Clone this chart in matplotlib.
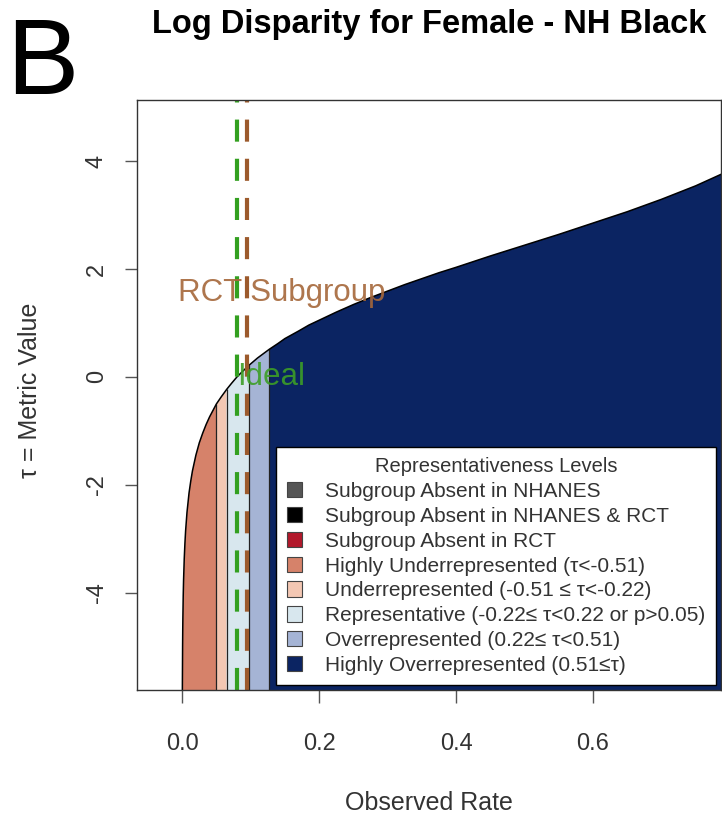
import matplotlib
matplotlib.use("Agg")
import matplotlib.pyplot as plt
from matplotlib.patches import Patch
import numpy as np

plt.rcParams['font.family'] = ['Liberation Sans', 'DejaVu Sans']
plt.rcParams['axes.unicode_minus'] = False

# observed rate vs log disparity curve
rate = [0.0002, 0.0003, 0.0006, 0.0008, 0.001, 0.0015, 0.002, 0.003, 0.004, 0.005,
        0.007, 0.01, 0.0125, 0.015, 0.02, 0.025, 0.03, 0.035, 0.04, 0.045,
        0.05, 0.057, 0.065, 0.072, 0.08, 0.088, 0.098, 0.11, 0.127, 0.14,
        0.15, 0.17, 0.185, 0.2, 0.225, 0.25, 0.275, 0.3, 0.325, 0.35,
        0.375, 0.4, 0.45, 0.5, 0.55, 0.6, 0.65, 0.7, 0.75, 0.79]
tau = [-6.08, -5.67, -4.98, -4.69, -4.47, -4.06, -3.77, -3.37, -3.08, -2.85,
       -2.51, -2.15, -1.93, -1.74, -1.45, -1.22, -1.04, -0.88, -0.74, -0.62,
       -0.50, -0.37, -0.23, -0.12, 0.00, 0.10, 0.22, 0.35, 0.51, 0.62,
       0.71, 0.85, 0.96, 1.05, 1.20, 1.34, 1.47, 1.59, 1.71, 1.82,
       1.93, 2.03, 2.24, 2.44, 2.64, 2.85, 3.06, 3.29, 3.54, 3.77]

# rate boundaries of the shaded bands
band_edges = [0.0, 0.05, 0.065, 0.098, 0.127, 0.79]
band_colors = ['#d6826a', '#f3c7b3', '#d8e7ee', '#a5b4d5', '#0b2462']

ideal_rate = 0.080
rct_rate = 0.095

legend_labels = ['Subgroup Absent in NHANES',
                 'Subgroup Absent in NHANES & RCT',
                 'Subgroup Absent in RCT',
                 'Highly Underrepresented (τ<-0.51)',
                 'Underrepresented (-0.51 ≤ τ<-0.22)',
                 'Representative (-0.22≤ τ<0.22 or p>0.05)',
                 'Overrepresented (0.22≤ τ<0.51)',
                 'Highly Overrepresented (0.51≤τ)']
legend_colors = ['#555555', '#000000', '#b2182b'] + band_colors

x = np.array(rate)
y = np.array(tau)

fig = plt.figure(figsize=(7.22, 8.17), dpi=100)
ax = fig.add_axes([137 / 722, 1 - 690 / 817, 584 / 722, 590 / 817])

y_bottom = -5.8
for i, col in enumerate(band_colors):
    lo, hi = band_edges[i], band_edges[i + 1]
    m = (x >= lo) & (x <= hi)
    ax.fill_between(x[m], -20, y[m], color=col, lw=0, zorder=1)

# thin black separators between bands
for e in band_edges[1:-1]:
    ax.vlines(e, -20, tau[rate.index(e)], color='#222222', lw=0.9, zorder=2)

ax.plot(x, y, color='black', lw=1.1, zorder=3)

ax.axvline(ideal_rate, color='#33a020', lw=3, dashes=(5.3, 4.1), zorder=4)
ax.axvline(rct_rate, color='#9c5a2c', lw=3, dashes=(5.3, 4.1), zorder=4)

ax.text(0.146, 1.55, 'RCT Subgroup', color='#a5673a', fontsize=22.5,
        ha='center', va='center', alpha=0.9, zorder=5)
ax.text(0.130, 0.0, 'Ideal', color='#3c9e26', fontsize=22.5,
        ha='center', va='center', alpha=0.9, zorder=5)

ax.set_xlim(-0.066, 0.787)
ax.set_ylim(y_bottom, 5.13)
ax.set_xticks([0.0, 0.2, 0.4, 0.6])
ax.set_xticklabels(['0.0', '0.2', '0.4', '0.6'])
ax.set_yticks([-4, -2, 0, 2, 4])
ax.set_yticklabels(['-4', '-2', '0', '2', '4'], rotation=90, va='center')
ax.tick_params(length=9, width=1, color='#555555', labelsize=17,
               labelcolor='#333333', direction='out')
ax.tick_params(axis='x', pad=22)
ax.tick_params(axis='y', pad=12)
for s in ax.spines.values():
    s.set_color('#333333')
    s.set_linewidth(1)
    s.set_zorder(6)

handles = [Patch(facecolor=c, edgecolor='#444444', lw=0.8) for c in legend_colors]
leg = ax.legend(handles, legend_labels, title='Representativeness Levels',
                loc='lower right', bbox_to_anchor=(0.9915, 0.008),
                fontsize=15, title_fontsize=14.5, frameon=True,
                fancybox=False, framealpha=1, edgecolor='black',
                handlelength=0.75, handleheight=0.75, handletextpad=1.1,
                labelspacing=0.28, borderpad=0.5, borderaxespad=0)
leg.get_frame().set_linewidth(1)
for t in leg.get_texts():
    t.set_color('#333333')
leg.get_title().set_color('#333333')
leg.set_zorder(7)

fig.text(429 / 722, 1 - 803 / 817, 'Observed Rate', fontsize=18,
         color='#333333', ha='center', va='center')
fig.text(30 / 722, 1 - 390 / 817, 'τ = Metric Value', rotation=90,
         fontsize=18, color='#333333', ha='center', va='center')
fig.text(429 / 722, 1 - 25 / 817, 'Log Disparity for Female - NH Black',
         fontsize=23.5, fontweight='bold', ha='center', va='center')
fig.text(42 / 722, 1 - 66 / 817, 'B', fontsize=78, ha='center', va='center',
         family=['Liberation Sans Narrow', 'Liberation Sans'])

fig.savefig('out.png', dpi=100)
